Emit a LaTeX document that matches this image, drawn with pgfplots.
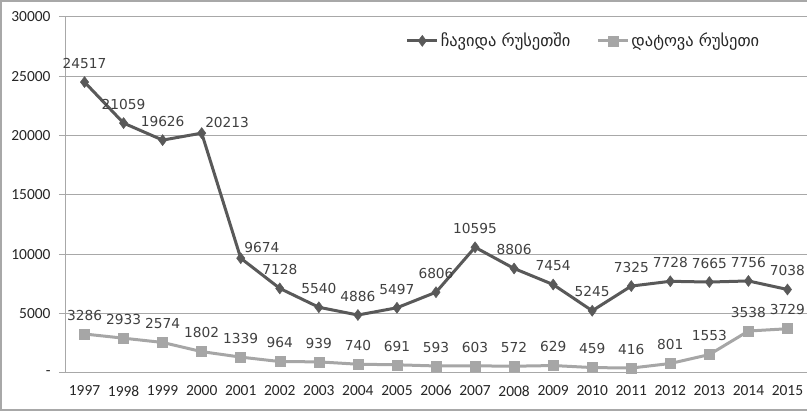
\documentclass[border=0pt]{standalone}
\usepackage{pgfplots}
\pgfplotsset{compat=1.18}
\usepackage{fontspec}
\setmainfont{Carlito}
\newfontfamily\lblfont{DejaVu Sans}
\newfontfamily\geofont[Script=Georgian]{DejaVu Sans}

\definecolor{sone}{HTML}{595959}
\definecolor{stwo}{HTML}{A6A6A6}
\definecolor{gridc}{HTML}{A8A8A8}
\definecolor{txtc}{HTML}{404040}

\begin{document}
\begin{tikzpicture}
\useasboundingbox (0,0) rectangle (807bp,411bp);
\draw[gridc, line width=1.2bp] (1bp,1bp) rectangle (812bp,410bp);
\begin{axis}[
    at={(65bp,38bp)}, anchor=south west,
    scale only axis,
    width=742bp, height=356bp,
    xmin=-0.5, xmax=18.5,
    ymin=0, ymax=30000,
    scaled y ticks=false,
    /pgf/number format/1000 sep={},
    /pgf/number format/assume math mode=true,
    axis x line*=bottom, axis y line*=left,
    axis line style={gridc, line width=1bp},
    xtick={0,...,18},
    xticklabels={1997,1998,1999,2000,2001,2002,2003,2004,2005,2006,2007,2008,2009,2010,2011,2012,2013,2014,2015},
    minor xtick={-0.5,0.5,...,18.5},
    x tick style={draw=none},
    minor x tick style={gridc, line width=1bp},
    ytick={0,5000,...,30000},
    yticklabels={-,5000,10000,15000,20000,25000,30000},
    y tick style={gridc, line width=1bp},
    tick align=outside,
    major tick length=6bp, minor tick length=6bp,
    ymajorgrids, grid style={gridc, line width=1bp},
    ticklabel style={font=\fontsize{15.5}{18}\selectfont, text=black!85},
    xticklabel style={yshift=-3bp},
    yticklabel style={xshift=-5bp},
    legend style={at={(0.455,0.933)}, anchor=west, draw=none, fill=none,
        legend columns=2, font=\geofont\fontsize{16.5}{18}\selectfont, text=black!85,
        /tikz/every even column/.append style={column sep=24bp}},
    legend image code/.code={\draw[mark repeat=2,mark phase=2] plot coordinates {(0bp,0bp) (15bp,0bp) (30bp,0bp)};},
    nodes near coords,
    every node near coord/.append style={font=\lblfont\fontsize{13.8}{16}\selectfont, text=txtc, yshift=10bp},
    clip=false,
]
\addplot[sone, line width=3bp, mark=diamond*, mark size=5.5bp, mark options={fill=sone, line width=0.5bp},
    coordinate style/.condition={x==3 || x==4}{anchor=south west, yshift=-8bp}]
  coordinates {
  (0,24517) (1,21059) (2,19626) (3,20213) (4,9674) (5,7128) (6,5540) (7,4886) (8,5497) (9,6806)
  (10,10595) (11,8806) (12,7454) (13,5245) (14,7325) (15,7728) (16,7665) (17,7756) (18,7038)};
\addlegendentry{ჩავიდა რუსეთში}
\addplot[stwo, line width=3bp, mark=square*, mark size=5bp, mark options={fill=stwo, line width=0.5bp}]
  coordinates {
  (0,3286) (1,2933) (2,2574) (3,1802) (4,1339) (5,964) (6,939) (7,740) (8,691) (9,593)
  (10,603) (11,572) (12,629) (13,459) (14,416) (15,801) (16,1553) (17,3538) (18,3729)};
\addlegendentry{დატოვა რუსეთი}
\end{axis}
\end{tikzpicture}
\end{document}
